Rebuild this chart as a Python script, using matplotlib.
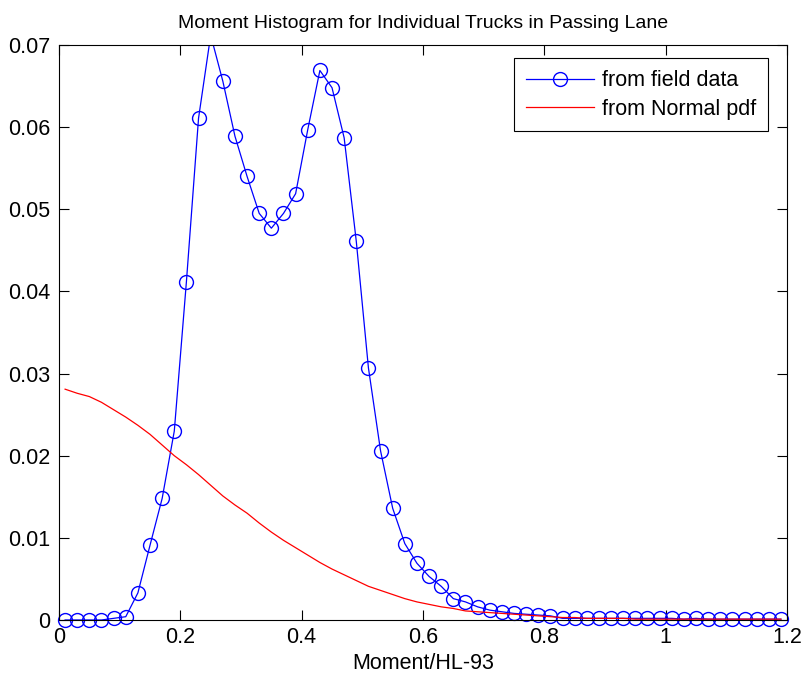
import numpy as np
import matplotlib
matplotlib.use("Agg")
import matplotlib.pyplot as plt

# bin centres, Moment/HL-93
x = np.arange(0.01, 1.2, 0.02)

# histogram from field data
field = [0.0, 0.0, 0.0, 0.0, 0.0002, 0.0004, 0.0033, 0.0091, 0.0148, 0.0230,
         0.0412, 0.0611, 0.0712, 0.0656, 0.0589, 0.0540, 0.0495, 0.0477, 0.0495, 0.0519,
         0.0597, 0.0669, 0.0648, 0.0587, 0.0461, 0.0307, 0.0206, 0.0136, 0.0093, 0.0069,
         0.0053, 0.0041, 0.0026, 0.0022, 0.0016, 0.0012, 0.0010, 0.0008, 0.0007, 0.0006,
         0.0005, 0.0002, 0.0002, 0.0002, 0.0002, 0.0002, 0.0002, 0.0002, 0.0002, 0.0002,
         0.0002, 0.0001, 0.0002, 0.0001, 0.0001, 0.0001, 0.0001, 0.0001, 0.0001, 0.0001]

# normal pdf
normal = [0.0281, 0.0276, 0.0272, 0.0265, 0.0256, 0.0247, 0.0237, 0.0226, 0.0213, 0.0200,
          0.0189, 0.0177, 0.0164, 0.0151, 0.0140, 0.0130, 0.0118, 0.0107, 0.0097, 0.0088,
          0.0079, 0.0070, 0.0062, 0.0055, 0.0048, 0.0041, 0.0036, 0.0031, 0.0026, 0.0022,
          0.0019, 0.0016, 0.0014, 0.0011, 0.0010, 0.0009, 0.0008, 0.0007, 0.0006, 0.0005,
          0.0004, 0.0003, 0.0003, 0.0002, 0.0002, 0.0002, 0.0002, 0.0001, 0.0001, 0.0001,
          0.0001, 0.0001, 0.0001, 0.0001, 0.0001, 0.0001, 0.0001, 0.0001, 0.0001, 0.0001]

plt.rcParams["font.family"] = ["Liberation Sans", "DejaVu Sans"]
fs = 15.5

fig = plt.figure(figsize=(8.02, 6.81), dpi=100)
ax = fig.add_axes([0.0736, 0.0896, 0.9077, 0.8443])

field = np.array(field)
ymax = 0.07
# line is clipped at the axes, markers inside the limits are drawn whole (MATLAB style)
ax.plot(x, field, color="blue", linewidth=0.9)
inside = field <= ymax
ax.plot(x[inside], field[inside], linestyle="none", marker="o", markersize=10,
        markerfacecolor="none", markeredgecolor="blue", markeredgewidth=1.0, clip_on=False)
ax.plot(x, normal, color="red", linewidth=0.9)

# legend proxies
h1, = ax.plot([], [], color="blue", linewidth=0.9, marker="o", markersize=10,
              markerfacecolor="none", markeredgewidth=1.0, label="from field data")
h2, = ax.plot([], [], color="red", linewidth=0.9, label="from Normal pdf")

ax.set_xlim(0, 1.2)
ax.set_ylim(0, ymax)
ax.set_xticks([0, 0.2, 0.4, 0.6, 0.8, 1, 1.2])
ax.set_xticklabels(["0", "0.2", "0.4", "0.6", "0.8", "1", "1.2"])
ax.set_yticks(np.arange(0, 0.0701, 0.01))
ax.set_yticklabels(["0", "0.01", "0.02", "0.03", "0.04", "0.05", "0.06", "0.07"])
ax.tick_params(direction="in", top=True, right=True, length=7, width=0.8, labelsize=fs)
ax.tick_params(axis="y", pad=6)
ax.tick_params(axis="x", pad=5)
for s in ax.spines.values():
    s.set_linewidth(0.8)

ax.set_xlabel("Moment/HL-93", fontsize=fs, labelpad=4)
ax.set_title("Moment Histogram for Individual Trucks in Passing Lane", fontsize=14, pad=12)

leg = ax.legend(handles=[h1, h2], loc="upper right", bbox_to_anchor=(0.974, 0.977),
                borderaxespad=0, fancybox=False, framealpha=1, edgecolor="black",
                handlelength=3.2, handletextpad=0.35, fontsize=fs, borderpad=0.55,
                labelspacing=0.35)
leg.get_frame().set_linewidth(0.8)

fig.savefig("out.png", dpi=100)
